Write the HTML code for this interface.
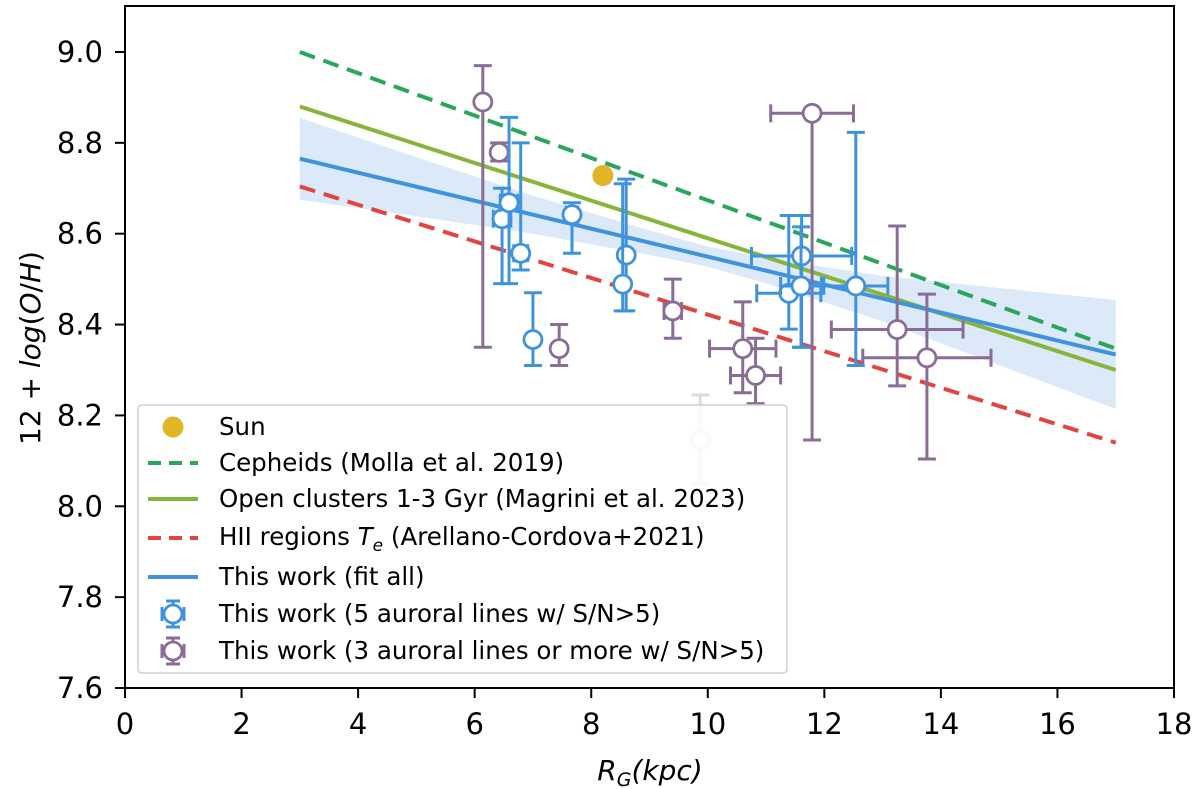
<!DOCTYPE html>
<html><head><meta charset="utf-8"><style>
html,body{margin:0;padding:0;background:#fff}
svg{display:block;font-family:"DejaVu Sans","Liberation Sans",sans-serif}
</style></head><body>
<svg id="chart" width="1200" height="789" viewBox="0 0 1200 789">
<g id="bandG"></g>
<g id="linesG"></g>
<g id="ptsG"></g>
<rect x="125" y="6" width="1049" height="682" fill="none" stroke="#000" stroke-width="2"/>
<g id="axesG"></g>
<text x="650" y="780" font-size="28" text-anchor="middle" font-style="italic">R<tspan font-size="19" dy="6">G</tspan><tspan dy="-6">(kpc)</tspan></text>
<text transform="translate(40,348) rotate(-90)" font-size="28" text-anchor="middle">12 + <tspan font-style="italic">log</tspan>(<tspan font-style="italic">O</tspan>/<tspan font-style="italic">H</tspan>)</text>
<g id="legendG"></g>
</svg>
<script>
const NS="http://www.w3.org/2000/svg";
const xTicks=[0,2,4,6,8,10,12,14,16,18];
const yTicks=[7.6,7.8,8.0,8.2,8.4,8.6,8.8,9.0];
const lineX=[3,17];
const cepheidsY=[9.0,8.347];
const clustersY=[8.88,8.30];
const hiiY=[8.704,8.14];
const fitY=[8.765,8.334];
const bandX=[3,5,7,9,10,11,13,15,17];
const bandHalf=[0.09,0.065,0.042,0.027,0.022,0.028,0.05,0.085,0.12];
const sunX=[8.2], sunY=[8.728];
const blueX=[6.47,6.59,6.79,7.67,8.6,8.54,7.0,11.61,11.39,11.6,12.54];
const blueY=[8.633,8.668,8.557,8.642,8.553,8.489,8.367,8.551,8.469,8.485,8.485];
const blueXerr=[0.15,0.15,0.12,0.1,0.05,0.05,0.03,0.86,0.55,0.35,0.55];
const blueYlo=[8.49,8.49,8.52,8.557,8.43,8.43,8.31,8.35,8.39,8.35,8.31];
const blueYhi=[8.70,8.856,8.80,8.668,8.72,8.71,8.47,8.64,8.64,8.615,8.823];
const purpX=[6.14,6.42,7.45,9.4,10.6,10.82,11.79,13.25,13.76,9.87];
const purpY=[8.89,8.779,8.347,8.43,8.347,8.288,8.865,8.389,8.327,8.146];
const purpXerr=[0.05,0.05,0.05,0.15,0.57,0.43,0.71,1.13,1.1,0.05];
const purpYlo=[8.35,8.76,8.31,8.37,8.25,8.226,8.146,8.265,8.104,8.05];
const purpYhi=[8.97,8.80,8.40,8.50,8.45,8.37,8.865,8.617,8.467,8.245];

const X=v=>125+v*(1049/18);
const Y=v=>688-(v-7.6)*454.3;
function el(t,a,p){const e=document.createElementNS(NS,t);for(const k in a)e.setAttribute(k,a[k]);(p||document.getElementById('chart')).appendChild(e);return e;}
const axesG=document.getElementById('axesG');
xTicks.forEach(t=>{
 const l=el('line',{x1:X(t),x2:X(t),y1:688,y2:698,stroke:'#000','stroke-width':2},axesG);
 
 
 const tx=el('text',{x:X(t),y:734,'font-size':29,'text-anchor':'middle'},axesG);tx.textContent=t;
 
 
});
yTicks.forEach(t=>{
 const l=el('line',{x1:115,x2:125,y1:Y(t),y2:Y(t),stroke:'#000','stroke-width':2},axesG);
 
 
 const tx=el('text',{x:103,y:Y(t)+10,'font-size':29,'text-anchor':'end'},axesG);tx.textContent=t.toFixed(1);
 
 
});
const fitAt=x=>fitY[0]+(fitY[1]-fitY[0])*(x-lineX[0])/(lineX[1]-lineX[0]);
let up=bandX.map((x,i)=>X(x)+','+Y(fitAt(x)+bandHalf[i]));
let dn=bandX.map((x,i)=>X(x)+','+Y(fitAt(x)-bandHalf[i])).reverse();
const band=el('polygon',{points:up.concat(dn).join(' '),fill:'#cfe2f7','fill-opacity':0.75},document.getElementById('bandG'));


const linesG=document.getElementById('linesG');
function ln(ys,col,dash,name){const l=el('line',{x1:X(lineX[0]),x2:X(lineX[1]),y1:Y(ys[0]),y2:Y(ys[1]),stroke:col,'stroke-width':4,'stroke-dasharray':dash||'none'},linesG);
 
 }
ln(cepheidsY,'#2aa65c','16 9','cepheids-line');
ln(clustersY,'#87b43a','','open-clusters-line');
ln(hiiY,'#e0453f','16 9','hii-regions-line');
ln(fitY,'#3f93dc','','fit-line');
const ptsG=document.getElementById('ptsG');
function pts(xs,ys,xe,lo,hi,col,name,faded){
 xs.forEach((x,i)=>{
  const g=el('g',{opacity:(faded&&i===xs.length-1)?0.25:1},ptsG);
  
  
  const cx=X(x),cy=Y(ys[i]),x1=X(x-xe[i]),x2=X(x+xe[i]),y1=Y(hi[i]),y2=Y(lo[i]);
  const s={stroke:col,'stroke-width':3};
  el('line',Object.assign({x1:cx,x2:cx,y1:y1,y2:y2},s),g);
  el('line',Object.assign({x1:x1,x2:x2,y1:cy,y2:cy},s),g);
  [y1,y2].forEach(y=>el('line',Object.assign({x1:cx-9,x2:cx+9,y1:y,y2:y},s),g));
  [x1,x2].forEach(xx=>el('line',Object.assign({x1:xx,x2:xx,y1:cy-9,y2:cy+9},s),g));
  el('circle',{cx:cx,cy:cy,r:9,fill:'#fff',stroke:col,'stroke-width':2.8},g);
 });
}
pts(purpX,purpY,purpXerr,purpYlo,purpYhi,'#8a6d96','purple-point',true);
pts(blueX,blueY,blueXerr,blueYlo,blueYhi,'#3f93dc','blue-point',false);
sunX.forEach((x,i)=>{const c=el('circle',{cx:X(x),cy:Y(sunY[i]),r:10.5,fill:'#e0b526'},ptsG);
 
 });
const lg=document.getElementById('legendG');
el('rect',{x:138,y:405,width:649,height:268,rx:4,fill:'#fff','fill-opacity':0.8,stroke:'#d0d0d0','stroke-width':1.5},lg);
const rows=[427,463,499,537,577,614,651];
const labels=['Sun','Cepheids (Molla et al. 2019)','Open clusters 1-3 Gyr (Magrini et al. 2023)','','This work (fit all)','This work (5 auroral lines w/ S/N>5)','This work (3 auroral lines or more w/ S/N>5)'];
rows.forEach((y,i)=>{
 const t=el('text',{x:219,y:y+8,'font-size':24.5},lg);
 
 
 if(i===3){t.innerHTML='HII regions <tspan font-style="italic">T</tspan><tspan font-size="17" dy="6" font-style="italic">e</tspan><tspan dy="-6"> (Arellano-Cordova+2021)</tspan>';}
 else t.textContent=labels[i];
});
el('circle',{cx:173,cy:427,r:10.5,fill:'#e0b526'},lg);
el('line',{x1:148,x2:198,y1:463,y2:463,stroke:'#2aa65c','stroke-width':4,'stroke-dasharray':'13 8'},lg);
el('line',{x1:148,x2:198,y1:499,y2:499,stroke:'#87b43a','stroke-width':4},lg);
el('line',{x1:148,x2:198,y1:538,y2:538,stroke:'#e0453f','stroke-width':4,'stroke-dasharray':'13 8'},lg);
el('line',{x1:148,x2:198,y1:577,y2:577,stroke:'#3f93dc','stroke-width':4},lg);
[[614,'#3f93dc'],[651,'#8a6d96']].forEach(([y,c])=>{
 const s={stroke:c,'stroke-width':3};
 el('line',Object.assign({x1:173,x2:173,y1:y-13,y2:y+13},s),lg);
 el('line',Object.assign({x1:166,x2:180,y1:y-13,y2:y-13},s),lg);
 el('line',Object.assign({x1:166,x2:180,y1:y+13,y2:y+13},s),lg);
 el('line',Object.assign({x1:162,x2:162,y1:y-7,y2:y+7},s),lg);
 el('line',Object.assign({x1:184,x2:184,y1:y-7,y2:y+7},s),lg);
 el('line',Object.assign({x1:162,x2:184,y1:y,y2:y},s),lg);
 el('circle',{cx:173,cy:y,r:9,fill:'#fff',stroke:c,'stroke-width':2.8},lg);
});
</script>
</body></html>
